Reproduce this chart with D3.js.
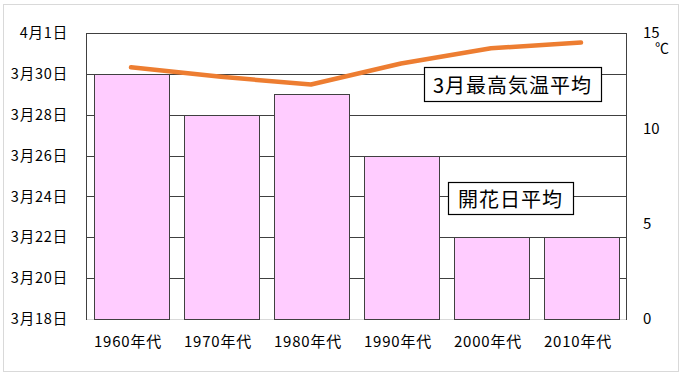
<!DOCTYPE html>
<html><head><meta charset="utf-8">
<script src="https://cdn.jsdelivr.net/npm/d3@7"></script>
<style>
html,body{margin:0;padding:0;background:#fff;}
svg text{font-family:"Noto Sans CJK JP","Noto Sans",sans-serif;}
</style></head>
<body><svg id="c" width="683" height="384"></svg>
<script>
const categories = ["1960年代","1970年代","1980年代","1990年代","2000年代","2010年代"];
const bloomDates = ["03-30","03-28","03-29","03-26","03-22","03-22"];
const maxTemps = [13.2, 12.7, 12.3, 13.4, 14.2, 14.5];
const dateTicks = ["03-18","03-20","03-22","03-24","03-26","03-28","03-30","04-01"];
const tempTicks = [0, 5, 10, 15];
const lineLabel = "3月最高気温平均";
const barLabel = "開花日平均";

const parse = s => { const [m,d] = s.split("-").map(Number); return new Date(2000, m-1, d); };
const fmt = d => (d.getMonth()+1) + "月" + d.getDate() + "日";

const svg = d3.select("#c");
const L = 86, R = 626, T = 33, B = 319;

// outer border
svg.append("rect").attr("x",3.5).attr("y",4.5).attr("width",675).attr("height",367)
  .attr("fill","#fff").attr("stroke","#d9d9d9").attr("stroke-width",1);

const x = d3.scaleBand().domain(categories).range([L,R]).paddingInner(0.17).paddingOuter(0.085);
const yD = d3.scaleTime().domain([parse("03-18"), parse("04-01")]).range([B,T]);
const yT = d3.scaleLinear().domain([0,15]).range([B,T]);

// gridlines
svg.append("g").selectAll("line").data(dateTicks.map(parse).filter(d=>+d !== +parse("03-18")))
  .join("line")
  .attr("x1",L).attr("x2",R)
  .attr("y1",d=>Math.round(yD(d))+0.5).attr("y2",d=>Math.round(yD(d))+0.5)
  .attr("stroke","#404040").attr("stroke-width",1);

// bottom line
svg.append("line").attr("x1",L).attr("x2",R).attr("y1",B+0.5).attr("y2",B+0.5)
  .attr("stroke","#d9d9d9");

// bars
svg.append("g").selectAll("rect").data(categories).join("rect")
  .attr("x",d=>Math.round(x(d))+0.5)
  .attr("y",(d,i)=>Math.round(yD(parse(bloomDates[i])))+0.5)
  .attr("width",Math.round(x.bandwidth()))
  .attr("height",(d,i)=>B-Math.round(yD(parse(bloomDates[i]))))
  .attr("fill","#FFCCFF").attr("stroke","#404040").attr("stroke-width",1);

// axes lines
svg.append("line").attr("x1",L+0.5).attr("x2",L+0.5).attr("y1",T).attr("y2",B+1).attr("stroke","#404040");
svg.append("line").attr("x1",R+0.5).attr("x2",R+0.5).attr("y1",T).attr("y2",B+1).attr("stroke","#404040");

// left axis labels
const gl = svg.append("g").attr("transform",`translate(${L},0)`)
  .call(d3.axisLeft(yD).tickValues(dateTicks.map(parse)).tickFormat(fmt).tickSize(0).tickPadding(18));
gl.select(".domain").remove();
gl.selectAll("text").attr("font-size","14.5px").attr("letter-spacing","0.8px").attr("fill","#000").attr("font-family","Noto Sans CJK JP");

// right axis labels
const gr = svg.append("g").attr("transform",`translate(${R},0)`)
  .call(d3.axisRight(yT).tickValues(tempTicks).tickSize(0).tickPadding(17));
gr.select(".domain").remove();
gr.selectAll("text").attr("font-size","15px").attr("fill","#000").attr("font-family","Noto Sans CJK JP");
svg.append("text").attr("x",655).attr("y",53).attr("font-size","14px").text("℃");

// x axis labels
const gx = svg.append("g").attr("transform",`translate(0,${B})`)
  .call(d3.axisBottom(x).tickSize(0).tickPadding(17));
gx.select(".domain").remove();
gx.selectAll("text").attr("font-size","15px").attr("letter-spacing","0.8px").attr("fill","#000").attr("dx","-3").attr("font-family","Noto Sans CJK JP");

// line
svg.append("path").datum(maxTemps)
  .attr("d", d3.line().x((d,i)=>x(categories[i])+x.bandwidth()/2).y(d=>yT(d)))
  .attr("fill","none").attr("stroke","#ED7D31").attr("stroke-width",4.5)
  .attr("stroke-linecap","round").attr("stroke-linejoin","round");

// labels
function label(text, x0, y0, w, h){
  svg.append("rect").attr("x",x0+0.5).attr("y",y0+0.5).attr("width",w).attr("height",h)
    .attr("fill","#fff").attr("stroke","#000").attr("stroke-width",1.2);
  svg.append("text").attr("x",x0+w/2).attr("y",y0+h/2).attr("text-anchor","middle")
    .attr("dominant-baseline","central").attr("font-size","20px").attr("letter-spacing","1px")
    .attr("fill","#000").text(text);
}
label(lineLabel, 424, 67, 177, 34);
label(barLabel, 448, 182, 125, 32);
</script></body></html>
